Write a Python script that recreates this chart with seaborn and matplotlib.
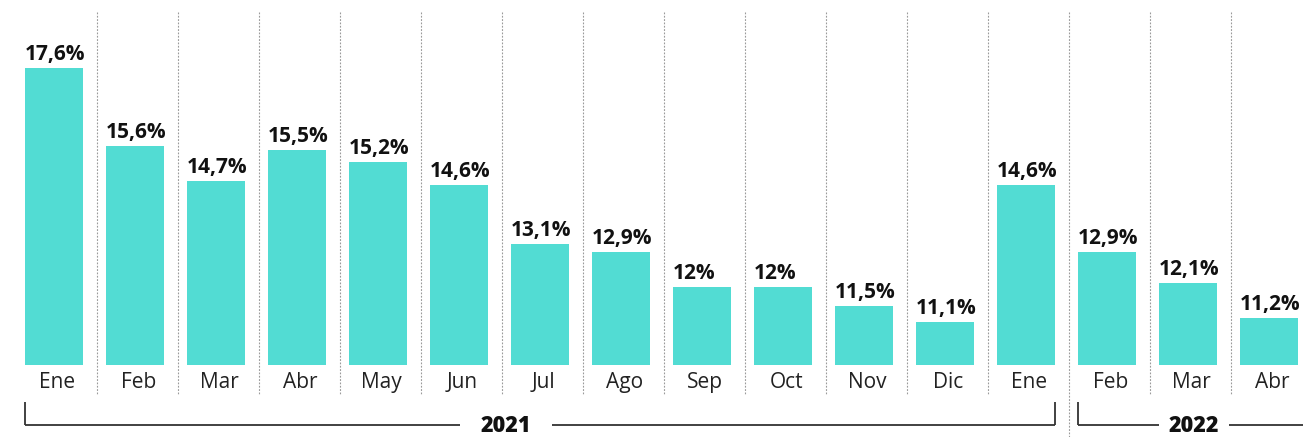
import matplotlib
matplotlib.use("Agg")
import matplotlib.pyplot as plt
import seaborn as sns
import pandas as pd
from matplotlib.transforms import blended_transform_factory

# ---- data ----
months = ["Ene", "Feb", "Mar", "Abr", "May", "Jun", "Jul", "Ago",
          "Sep", "Oct", "Nov", "Dic", "Ene", "Feb", "Mar", "Abr"]
values = [17.6, 15.6, 14.7, 15.5, 15.2, 14.6, 13.1, 12.9,
          12.0, 12.0, 11.5, 11.1, 14.6, 12.9, 12.1, 11.2]
value_labels = ["17,6%", "15,6%", "14,7%", "15,5%", "15,2%", "14,6%", "13,1%", "12,9%",
                "12%", "12%", "11,5%", "11,1%", "14,6%", "12,9%", "12,1%", "11,2%"]
year_labels = ["2021", "2022"]
year_first = [0, 13]     # first bar index under each year bracket
year_last = [12, 15]     # last bar index under each year bracket

# ---- style ----
sns.set_style("white")
plt.rcParams["font.family"] = ["Open Sans", "DejaVu Sans"]

W, H = 1303, 437
fig = plt.figure(figsize=(W / 100, H / 100), dpi=100)
fig.patch.set_facecolor("white")

# axes: value 10 at bar bottom (px y=365), full width
ax = fig.add_axes([0, (H - 365) / H, 1, 365 / H])

df = pd.DataFrame({"key": [f"{m}-{i}" for i, m in enumerate(months)],
                   "value": values})
BAR_COLOR = "#52DCD3"
BW = 0.716
sns.barplot(data=df, x="key", y="value", color=BAR_COLOR, width=BW,
            saturation=1, ax=ax, linewidth=0)

px0, step = 54, 81  # px center of first bar, px per slot
ax.set_xlim(-px0 / step, (W - px0) / step)
ax.set_ylim(10, 10 + 365 / 39.08)
ax.axis("off")

def fy(py):
    return 1 - py / H

tr = blended_transform_factory(ax.transData, fig.transFigure)

# value labels (left aligned with bar left edge)
for i, (v, lab) in enumerate(zip(values, value_labels)):
    ax.annotate(lab, (i - BW / 2, v), xytext=(0, 5.8), textcoords="offset points",
                ha="left", va="baseline", fontsize=15, fontweight="bold",
                color="#111111")

# month labels
for i, m in enumerate(months):
    ax.text(i + 0.04, fy(388), m, transform=tr, ha="center", va="baseline",
            fontsize=15, color="#222222")

# dashed separators
n = len(months)
for i in range(n - 1):
    x = i + 0.53
    bottom = 437 if i == year_last[0] else 394
    ax.plot([x, x], [fy(12), fy(bottom)], transform=tr, color="#9a9a9a",
            lw=0.8, ls=(0, (1.6, 1.4)), clip_on=False, zorder=0)

# year brackets
line_kw = dict(transform=tr, color="#333333", lw=1.3, clip_on=False,
               solid_capstyle="butt")
text_x = [5.58, 14.07]
gap_half = [0.57, 0.43]
for k, yl in enumerate(year_labels):
    x0 = year_first[k] - BW / 2
    x1 = year_last[k] + BW / 2 if k == 0 else ax.get_xlim()[1] + 0.1
    yb = fy(425)
    yt = fy(402)
    ax.plot([x0, x0], [yt, yb], **line_kw)
    if k == 0:
        ax.plot([x1, x1], [yt, yb], **line_kw)
    ax.plot([x0, text_x[k] - gap_half[k]], [yb, yb], **line_kw)
    ax.plot([text_x[k] + gap_half[k], x1], [yb, yb], **line_kw)
    ax.text(text_x[k], fy(432), yl, transform=tr, ha="center", va="baseline",
            fontsize=15.5, fontweight=800, color="#111111")

fig.savefig("out.png", dpi=100, facecolor="white")
